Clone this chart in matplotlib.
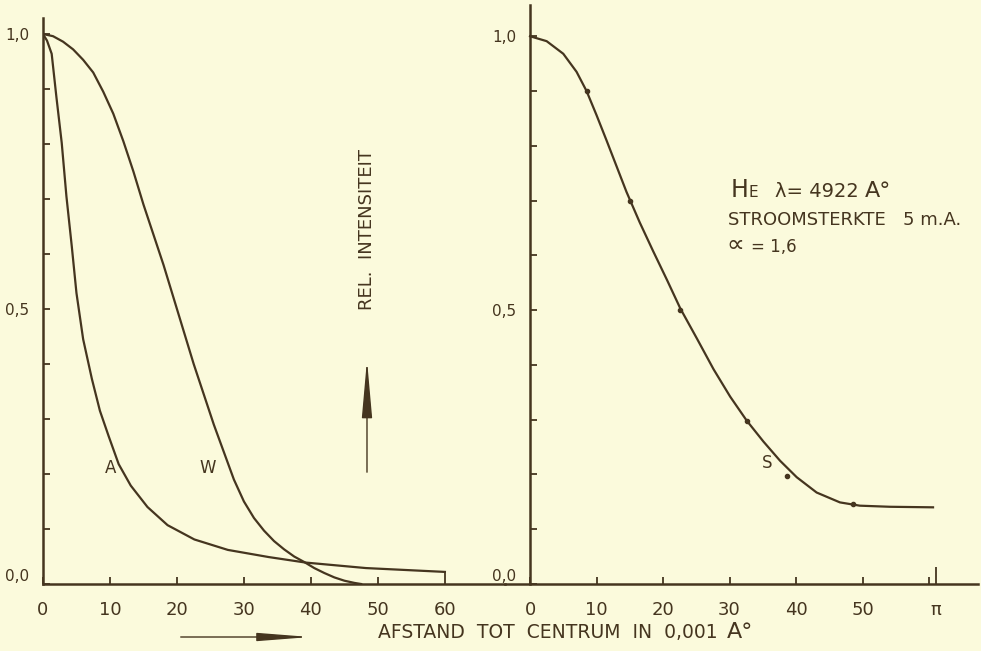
import matplotlib
matplotlib.use('Agg')
import matplotlib.pyplot as plt
from matplotlib.ticker import MultipleLocator, FixedLocator

# ---- data ----
# left panel, curve A (narrow profile)
a_x = [0.0, 0.6, 1.3, 2.0, 2.8, 3.5, 4.3, 5.0, 6.0, 7.3, 8.5, 9.8, 11.3, 13.1,
       15.6, 18.6, 22.6, 27.6, 33.7, 39.2, 48.2, 60.0]
a_y = [1.0, 0.988, 0.964, 0.886, 0.802, 0.705, 0.614, 0.529, 0.445, 0.373,
       0.315, 0.269, 0.218, 0.179, 0.14, 0.107, 0.081, 0.062, 0.049, 0.039,
       0.029, 0.022]

# left panel, curve W (wide profile)
w_x = [0.0, 1.5, 3.0, 4.5, 6.0, 7.5, 9.0, 10.5, 12.0, 13.5, 15.0, 16.5, 18.0,
       19.5, 21.0, 22.5, 24.0, 25.5, 27.0, 28.5, 30.0, 31.5, 33.0, 34.5, 36.0,
       37.5, 39.0, 40.5, 42.0, 43.5, 45.0, 46.5, 47.5]
w_y = [1.0, 0.996, 0.986, 0.972, 0.953, 0.93, 0.895, 0.855, 0.805, 0.75, 0.69,
       0.635, 0.58, 0.52, 0.46, 0.40, 0.345, 0.29, 0.24, 0.19, 0.15, 0.12,
       0.097, 0.078, 0.063, 0.05, 0.04, 0.029, 0.02, 0.012, 0.006, 0.002, 0.0]

# right panel, He 4922 profile (curve + measured points)
s_x = [0.0, 2.5, 5.0, 7.0, 8.5, 10.0, 11.5, 13.0, 14.5, 16.5, 18.5, 20.6,
       22.6, 25.1, 27.6, 30.1, 32.6, 35.1, 37.6, 40.1, 43.1, 46.6, 49.6, 54.1,
       60.6]
s_y = [1.0, 0.991, 0.968, 0.935, 0.90, 0.856, 0.81, 0.763, 0.716, 0.66, 0.608,
       0.555, 0.503, 0.448, 0.392, 0.342, 0.298, 0.26, 0.225, 0.195, 0.167,
       0.149, 0.143, 0.141, 0.14]
pts_x = [8.5, 15.0, 22.6, 32.6, 38.6, 48.6]
pts_y = [0.90, 0.70, 0.50, 0.298, 0.197, 0.146]

left_xticks = [0, 10, 20, 30, 40, 50, 60]
right_xticks = [0, 10, 20, 30, 40, 50, 61]
right_xlabels = ['0', '10', '20', '30', '40', '50', 'π']
yticks = [0.0, 0.5, 1.0]
ylabels = ['0,0', '0,5', '1,0']

bg = '#fbfadc'
ink = '#45351f'

fig = plt.figure(figsize=(9.81, 6.51), dpi=100)
fig.patch.set_facecolor(bg)

ax1 = fig.add_axes([0.0438, 0.1029, 0.4709, 0.8694])
ax2 = fig.add_axes([0.5148, 0.1029, 0.4822, 0.8894])
# right y axis sits at x=0, inside the axes box (do this before tick setup)
ax2.spines['left'].set_position(('data', 0))

for ax in (ax1, ax2):
    ax.set_facecolor('none')
    ax.spines['top'].set_visible(False)
    ax.spines['right'].set_visible(False)
    ax.spines['left'].set_color(ink)
    ax.spines['bottom'].set_color(ink)
    ax.spines['left'].set_linewidth(1.8)
    ax.spines['bottom'].set_linewidth(1.8)
    ax.set_yticks(yticks)
    ax.set_yticklabels(ylabels, fontsize=11, color=ink)
    ax.yaxis.set_minor_locator(MultipleLocator(0.1))
    ax.tick_params(axis='both', which='both', direction='in', color=ink,
                   width=1.3, length=5)
    ax.tick_params(axis='y', pad=10)
    ax.tick_params(axis='x', pad=12, labelsize=13, labelcolor=ink)
    ax.get_yticklabels()[0].set_va('bottom')

# left panel
ax1.plot(a_x, a_y, color=ink, lw=1.6)
ax1.plot(w_x, w_y, color=ink, lw=1.6)
ax1.set_xlim(0, 68.96)
ax1.set_ylim(0, 1.029)
ax1.set_xticks(left_xticks)
ax1.set_xticklabels([str(t) for t in left_xticks])
ax1.xaxis.get_major_ticks()[-1].tick1line.set_markersize(8)
ax1.text(10.1, 0.211, 'A', fontsize=12, color=ink, ha='center', va='center')
ax1.text(24.6, 0.211, 'W', fontsize=12, color=ink, ha='center', va='center')

# right panel
ax2.plot(s_x, s_y, color=ink, lw=1.6)
ax2.plot(pts_x, pts_y, 'o', color=ink, ms=3)
ax2.set_xlim(-3.76, 67.37)
ax2.set_ylim(0, 1.057)
ax2.set_xticks(right_xticks)
ax2.set_xticklabels(right_xlabels)
ax2.xaxis.set_minor_locator(FixedLocator([60]))
ax2.xaxis.get_major_ticks()[-1].tick1line.set_markersize(12)
ax2.text(35.6, 0.221, 'S', fontsize=12, color=ink, ha='center', va='center')

# annotation block
ax2.text(30.1, 0.706, 'H', fontsize=17, color=ink, va='baseline')
ax2.text(32.8, 0.706, 'E', fontsize=11, color=ink, va='baseline')
ax2.text(36.8, 0.706, 'λ= 4922', fontsize=14, color=ink, va='baseline')
ax2.text(50.4, 0.706, 'A°', fontsize=16, color=ink, va='baseline')
ax2.text(29.8, 0.655, 'STROOMSTERKTE   5 m.A.', fontsize=13, color=ink,
         va='baseline')
ax2.text(29.6, 0.606, '∝', fontsize=18, color=ink, va='baseline')
ax2.text(33.2, 0.606, '= 1,6', fontsize=12, color=ink, va='baseline')

# axis titles and arrows
fig.text(0.385, 0.020, 'AFSTAND  TOT  CENTRUM  IN  0,001', fontsize=13.5,
         color=ink, va='baseline')
fig.text(0.741, 0.020, 'A°', fontsize=16, color=ink, va='baseline')
fig.text(0.374, 0.647, 'REL.  INTENSITEIT', fontsize=13, color=ink,
         rotation=90, ha='center', va='center')

ax1.annotate('', xy=(0.3191, 0.0215), xytext=(0.1814, 0.0215),
             xycoords='figure fraction', textcoords='figure fraction',
             arrowprops=dict(arrowstyle='-|>,head_length=32,head_width=2.5',
                             mutation_scale=1, color=ink, lw=1.0))
ax1.annotate('', xy=(0.3741, 0.4516), xytext=(0.3741, 0.2704),
             xycoords='figure fraction', textcoords='figure fraction',
             arrowprops=dict(arrowstyle='-|>,head_length=36,head_width=3.2',
                             mutation_scale=1, color=ink, lw=1.0))

fig.savefig('out.png', dpi=100, facecolor=bg)
